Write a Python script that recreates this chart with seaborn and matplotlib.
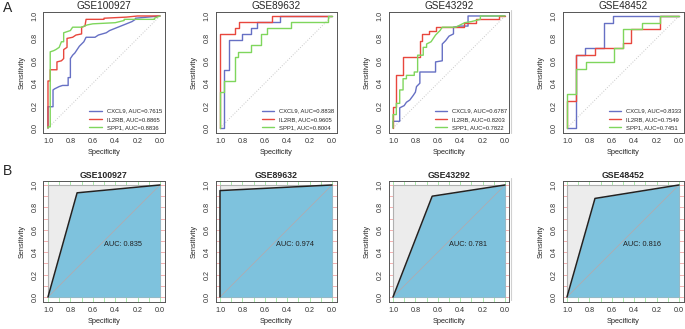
import numpy as np
import pandas as pd
import matplotlib
matplotlib.use("Agg")
import matplotlib.pyplot as plt
import matplotlib.lines as mlines
import seaborn as sns

sns.set_style("white")
plt.rcParams['font.family'] = ['Liberation Sans', 'DejaVu Sans']

# ---- data ----
datasets = ["GSE100927", "GSE89632", "GSE43292", "GSE48452"]
genes = ["CXCL9", "IL2RB", "SPP1"]
gene_colors = ["#6670c4", "#e8473d", "#7fd65c"]

auc_A = {
    "GSE100927": [0.7615, 0.8865, 0.8836],
    "GSE89632": [0.8838, 0.9605, 0.8004],
    "GSE43292": [0.6787, 0.8203, 0.7822],
    "GSE48452": [0.8333, 0.7549, 0.7451],
}

# GSE100927
gse100927_cxcl9_spec = [1, 1, 0.955, 0.955, 0.94, 0.9, 0.87, 0.82, 0.82, 0.8, 0.8, 0.78, 0.76, 0.74, 0.72, 0.7, 0.68, 0.66, 0.58, 0.55, 0.48, 0.45, 0.40, 0.35, 0.3, 0.25, 0.22, 0.22, 0]
gse100927_cxcl9_sens = [0, 0.19, 0.19, 0.34, 0.35, 0.37, 0.38, 0.38, 0.45, 0.45, 0.62, 0.65, 0.67, 0.70, 0.73, 0.75, 0.77, 0.81, 0.81, 0.83, 0.85, 0.87, 0.89, 0.91, 0.93, 0.95, 0.97, 0.98, 1.0]
gse100927_il2rb_spec = [1, 1, 0.98, 0.98, 0.92, 0.92, 0.88, 0.86, 0.86, 0.83, 0.83, 0.78, 0.75, 0.7, 0.7, 0.67, 0.66, 0.5, 0.5, 0.3, 0.2, 0]
gse100927_il2rb_sens = [0, 0.42, 0.42, 0.52, 0.52, 0.59, 0.6, 0.62, 0.7, 0.72, 0.8, 0.81, 0.83, 0.84, 0.9, 0.91, 0.97, 0.97, 0.98, 0.99, 1.0, 1.0]
gse100927_spp1_spec = [1, 1, 0.98, 0.98, 0.95, 0.93, 0.9, 0.88, 0.86, 0.86, 0.8, 0.78, 0.7, 0.65, 0.6, 0.4, 0.32, 0.32, 0.05, 0.05, 0]
gse100927_spp1_sens = [0, 0.01, 0.01, 0.68, 0.69, 0.70, 0.72, 0.77, 0.77, 0.85, 0.87, 0.9, 0.9, 0.92, 0.93, 0.94, 0.96, 0.97, 0.97, 0.98, 1.0]

# GSE89632
gse89632_cxcl9_spec = [1, 0.96, 0.96, 0.92, 0.92, 0.8, 0.8, 0.72, 0.72, 0.67, 0.67, 0.46, 0.46, 0]
gse89632_cxcl9_sens = [0, 0, 0.52, 0.52, 0.79, 0.79, 0.84, 0.84, 0.89, 0.89, 0.95, 0.95, 1.0, 1.0]
gse89632_il2rb_spec = [1, 1, 0.87, 0.87, 0.83, 0.83, 0.54, 0.54, 0]
gse89632_il2rb_sens = [0, 0.84, 0.84, 0.89, 0.89, 0.95, 0.95, 1.0, 1.0]
gse89632_spp1_spec = [1, 1, 0.96, 0.96, 0.87, 0.87, 0.84, 0.84, 0.72, 0.72, 0.63, 0.63, 0.58, 0.58, 0.37, 0.37, 0.04, 0.04, 0]
gse89632_spp1_sens = [0, 0.32, 0.32, 0.42, 0.42, 0.63, 0.63, 0.68, 0.68, 0.74, 0.74, 0.84, 0.84, 0.89, 0.89, 0.95, 0.95, 1.0, 1.0]

# GSE43292
gse43292_cxcl9_spec = [1, 1, 0.94, 0.94, 0.9, 0.88, 0.85, 0.82, 0.8, 0.79, 0.76, 0.76, 0.62, 0.62, 0.56, 0.56, 0.53, 0.5, 0.46, 0.46, 0.4, 0.33, 0.33, 0]
gse43292_cxcl9_sens = [0, 0.06, 0.06, 0.18, 0.2, 0.23, 0.25, 0.29, 0.32, 0.37, 0.4, 0.5, 0.5, 0.59, 0.6, 0.75, 0.78, 0.82, 0.84, 0.9, 0.91, 0.91, 1.0, 1.0]
gse43292_il2rb_spec = [1, 1, 0.97, 0.97, 0.91, 0.91, 0.76, 0.76, 0.74, 0.74, 0.68, 0.68, 0.62, 0.62, 0.37, 0.37, 0.26, 0.26, 0.05, 0.05, 0]
gse43292_il2rb_sens = [0, 0.19, 0.19, 0.47, 0.47, 0.63, 0.63, 0.78, 0.78, 0.84, 0.84, 0.87, 0.87, 0.9, 0.9, 0.94, 0.94, 0.97, 0.97, 1.0, 1.0]
gse43292_spp1_spec = [1, 1, 0.97, 0.97, 0.94, 0.94, 0.91, 0.91, 0.88, 0.88, 0.81, 0.81, 0.78, 0.78, 0.73, 0.73, 0.7, 0.7, 0.66, 0.64, 0.62, 0.6, 0.58, 0.56, 0.44, 0.4, 0.36, 0.3, 0.22, 0.22, 0]
gse43292_spp1_sens = [0, 0.12, 0.12, 0.22, 0.22, 0.34, 0.34, 0.44, 0.44, 0.47, 0.47, 0.5, 0.5, 0.65, 0.65, 0.72, 0.72, 0.75, 0.77, 0.8, 0.83, 0.85, 0.87, 0.9, 0.9, 0.92, 0.94, 0.95, 0.97, 1.0, 1.0]

# GSE48452
gse48452_cxcl9_spec = [1, 0.92, 0.92, 0.84, 0.84, 0.67, 0.67, 0.59, 0.59, 0]
gse48452_cxcl9_sens = [0, 0, 0.65, 0.65, 0.71, 0.71, 0.94, 0.94, 1.0, 1.0]
gse48452_il2rb_spec = [1, 1, 0.92, 0.92, 0.75, 0.75, 0.5, 0.5, 0.43, 0.43, 0.17, 0.17, 0]
gse48452_il2rb_sens = [0, 0.24, 0.24, 0.65, 0.65, 0.71, 0.71, 0.76, 0.76, 0.88, 0.88, 1.0, 1.0]
gse48452_spp1_spec = [1, 1, 0.92, 0.92, 0.83, 0.83, 0.58, 0.58, 0.5, 0.5, 0.33, 0.33, 0.17, 0.17, 0]
gse48452_spp1_sens = [0, 0.3, 0.3, 0.53, 0.53, 0.59, 0.59, 0.71, 0.71, 0.88, 0.88, 0.94, 0.94, 1.0, 1.0]

curves_A = {
    "GSE100927": [(gse100927_cxcl9_spec, gse100927_cxcl9_sens), (gse100927_il2rb_spec, gse100927_il2rb_sens), (gse100927_spp1_spec, gse100927_spp1_sens)],
    "GSE89632": [(gse89632_cxcl9_spec, gse89632_cxcl9_sens), (gse89632_il2rb_spec, gse89632_il2rb_sens), (gse89632_spp1_spec, gse89632_spp1_sens)],
    "GSE43292": [(gse43292_cxcl9_spec, gse43292_cxcl9_sens), (gse43292_il2rb_spec, gse43292_il2rb_sens), (gse43292_spp1_spec, gse43292_spp1_sens)],
    "GSE48452": [(gse48452_cxcl9_spec, gse48452_cxcl9_sens), (gse48452_il2rb_spec, gse48452_il2rb_sens), (gse48452_spp1_spec, gse48452_spp1_sens)],
}

# panel B: single-threshold ROC
b_point_spec = [0.74, 1.0, 0.65, 0.75]
b_point_sens = [0.93, 0.95, 0.90, 0.88]
b_auc = [0.835, 0.974, 0.781, 0.816]

ticks = [1.0, 0.8, 0.6, 0.4, 0.2, 0.0]
tick_labels = ["1.0", "0.8", "0.6", "0.4", "0.2", "0.0"]

# ---- layout ----
W, H = 685, 329
fig = plt.figure(figsize=(6.85, 3.29), dpi=100)
lefts = [43.5, 215.5, 388.5, 562.5]
box = 121
tops = [11.5, 180.5]


def style_axes(ax):
    ax.set_xlim(1.04, -0.04)
    ax.set_ylim(-0.04, 1.04)
    ax.set_xticks(ticks)
    ax.set_xticklabels(tick_labels)
    ax.set_yticks(ticks)
    ax.set_yticklabels(tick_labels, rotation=90, va="center")
    ax.tick_params(axis="both", direction="out", length=2.5, width=0.6,
                   labelsize=5.2, pad=1.5, colors="#333333")
    ax.tick_params(axis="y", pad=1)
    ax.set_xlabel("Specificity", fontsize=5.3, labelpad=3)
    ax.set_ylabel("Sensitivity", fontsize=5.3, labelpad=4)
    for s in ax.spines.values():
        s.set_color("#555555")
        s.set_linewidth(0.7)
    ax.grid(False)


for i, ds in enumerate(datasets):
    # row A
    ax = fig.add_axes([lefts[i] / W, 1 - (tops[0] + box) / H, box / W, box / H])
    ax.plot([1, 0], [0, 1], ls=":", color="#c8c8c8", lw=0.7)
    handles = []
    for g, col, (sp, se), auc in zip(genes, gene_colors, curves_A[ds], auc_A[ds]):
        sns.lineplot(x=sp, y=se, sort=False, estimator=None, color=col,
                     lw=1.0, ax=ax)
        handles.append(mlines.Line2D([], [], color=col, lw=1.0,
                                     label=f"{g}, AUC={auc:.4f}"))
    ax.legend(handles=handles, loc="lower right", frameon=False, fontsize=4.2,
              handlelength=2.1, handletextpad=0.9, labelspacing=0.55,
              borderaxespad=0.0, bbox_to_anchor=(1.0, 0.0))
    style_axes(ax)
    ax.set_title(ds, fontsize=7.2, pad=2)

    # row B
    ax = fig.add_axes([lefts[i] / W, 1 - (tops[1] + box) / H, box / W, box / H])
    for v in np.arange(0, 1.01, 0.1):
        ax.axvline(v, color="#9be59b", lw=0.6, zorder=0)
        ax.axhline(v, color="#f2a5a5", lw=0.6, zorder=0)
    ax.fill_between([1, 0], [0, 0], [1, 1], color="#ececec", zorder=1,
                    edgecolor="#b0b0b0", lw=0.8)
    xs = [1.0, b_point_spec[i], 0.0]
    ys = [0.0, b_point_sens[i], 1.0]
    ax.fill_between(xs, [0, 0, 0], ys, color="#7ec2dd", zorder=2, lw=0)
    ax.plot([1, 0], [0, 1], color="#b8a8a8", lw=0.5, zorder=3)
    sns.lineplot(x=xs, y=ys, sort=False, estimator=None, color="#222222",
                 lw=1.1, ax=ax, zorder=4)
    ax.text(0.5, 0.47, f"AUC: {b_auc[i]:.3f}", fontsize=5.3, ha="left",
            va="center", color="#222222", zorder=5)
    style_axes(ax)
    ax.set_title(ds, fontsize=6.3, fontweight="bold", pad=2)

fig.text(3 / W, 1 - 8 / H, "A", fontsize=10, va="center", ha="left")
fig.text(3 / W, 1 - 171 / H, "B", fontsize=10, va="center", ha="left")

# faint separator lines seen in the figure
for y0, y1 in [(10, 133), (178, 300)]:
    fig.add_artist(mlines.Line2D([511 / W, 511 / W], [1 - y1 / H, 1 - y0 / H],
                                 color="#d0d0d0", lw=0.8))

fig.savefig("out.png", dpi=100)
